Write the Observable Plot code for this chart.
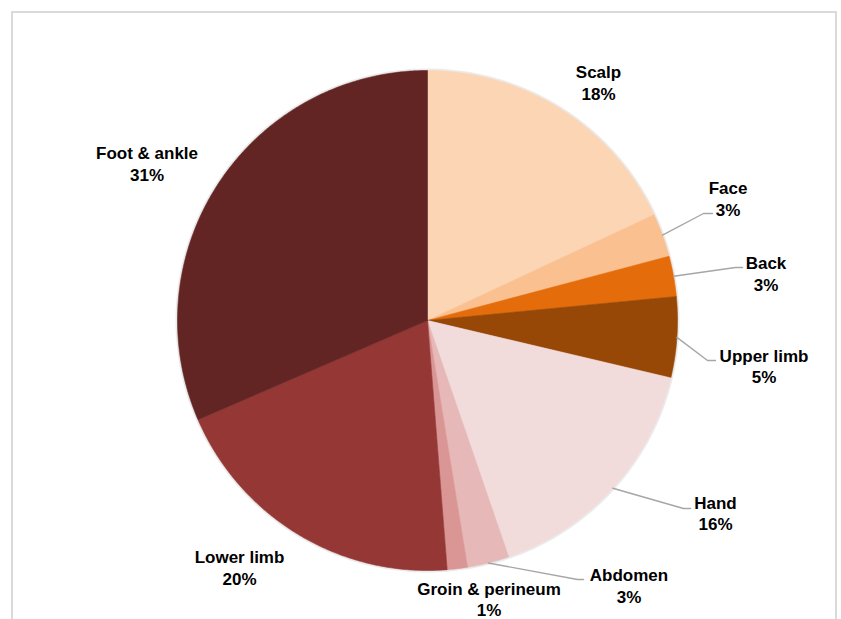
<!DOCTYPE html>
<html>
<head>
<meta charset="utf-8">
<script src="https://cdn.jsdelivr.net/npm/d3@7"></script>
<script src="https://cdn.jsdelivr.net/npm/@observablehq/plot@0.6"></script>
<style>
  html, body { margin: 0; padding: 0; background: #fff; }
  #wrap { position: relative; width: 841px; height: 619px; overflow: hidden; }
  #frame { position: absolute; left: 11px; top: 11px; width: 826px; height: 640px; border: 2px solid #dadada; box-sizing: border-box; pointer-events: none; }
</style>
</head>
<body>
<div id="wrap"><div id="frame"></div></div>
<script>
// ---- data ----
const regions = ["Scalp", "Face", "Back", "Upper limb", "Hand", "Abdomen", "Groin & perineum", "Lower limb", "Foot & ankle"];
const shares  = [18, 2.8, 2.6, 5.2, 16, 2.7, 1.3, 19.7, 31.4];
const colors  = ["#FCD5B4", "#FAC090", "#E46C0A", "#974806", "#F2DCDB", "#E6B9B8", "#D99694", "#953735", "#632523"];

// ---- layout (label block centres and leader elbows, in pie-radius units) ----
const labelAt = [[0.684, 0.954], [1.202, 0.49], [1.354, 0.19], [1.346, -0.18], [1.152, -0.768],
                 [0.806, -1.058], [0.246, -1.112], [-0.752, -0.986], [-1.122, 0.63]];
const leaderElbow = {
  "Face": [[1.104, 0.428], [1.14, 0.428]],
  "Back": [[1.232, 0.212], [1.26, 0.212]],
  "Upper limb": [[1.12, -0.16], [1.152, -0.16]],
  "Hand": [[1.024, -0.752], [1.052, -0.752]],
  "Abdomen": [[0.6, -1.036], [0.624, -1.036]]
};

const total = d3.sum(shares);
let acc = 0;
const slices = regions.map((name, i) => {
  const a0 = acc / total * 2 * Math.PI;
  acc += shares[i];
  const a1 = acc / total * 2 * Math.PI;
  return {name, value: shares[i], a0, a1, mid: (a0 + a1) / 2, pct: Math.round(shares[i] / total * 100)};
});

// polygon points for each slice (angles clockwise from 12 o'clock, y up)
const pts = [];
for (const s of slices) {
  pts.push({name: s.name, x: 0, y: 0});
  const n = Math.max(2, Math.ceil((s.a1 - s.a0) / (Math.PI / 360)));
  for (let k = 0; k <= n; k++) {
    const a = s.a0 + (s.a1 - s.a0) * k / n;
    pts.push({name: s.name, x: Math.sin(a), y: Math.cos(a)});
  }
  pts.push({name: s.name, x: 0, y: 0});
}

const leaders = [];
for (const s of slices) {
  const e = leaderElbow[s.name];
  if (!e) continue;
  leaders.push({name: s.name, x: Math.sin(s.mid), y: Math.cos(s.mid)});
  for (const p of e) leaders.push({name: s.name, x: p[0], y: p[1]});
}

const labels = slices.map((s, i) => ({name: s.name, text: `${s.name}\n${s.pct}%`, x: labelAt[i][0], y: labelAt[i][1]}));

// halo ring
const ring = d3.range(0, 361, 1).map(d => ({x: Math.sin(d * Math.PI / 180), y: Math.cos(d * Math.PI / 180)}));

const chart = Plot.plot({
  width: 841,
  height: 619,
  margin: 0,
  x: {domain: [-427 / 250, (841 - 427) / 250], axis: null},
  y: {domain: [(320 - 619) / 250, 320 / 250], axis: null},
  color: {domain: regions, range: colors},
  style: {background: "transparent"},
  marks: [
    Plot.line(ring, {x: "x", y: "y", stroke: "#000", strokeOpacity: 0.08, strokeWidth: 4}),
    Plot.line(pts, {x: "x", y: "y", z: "name", fill: "name", stroke: "name", strokeWidth: 0.6, curve: "linear-closed"}),
    Plot.line(leaders, {x: "x", y: "y", z: "name", stroke: "#a6a6a6", strokeWidth: 1.4}),
    Plot.text(labels, {x: "x", y: "y", text: "text", fill: "#000", fontSize: 17, fontWeight: "bold",
      fontFamily: "'Liberation Sans', Arial, Helvetica, sans-serif", lineHeight: 1.27, lineAnchor: "middle", textAnchor: "middle"})
  ]
});
document.getElementById("wrap").prepend(chart);
</script>
</body>
</html>
